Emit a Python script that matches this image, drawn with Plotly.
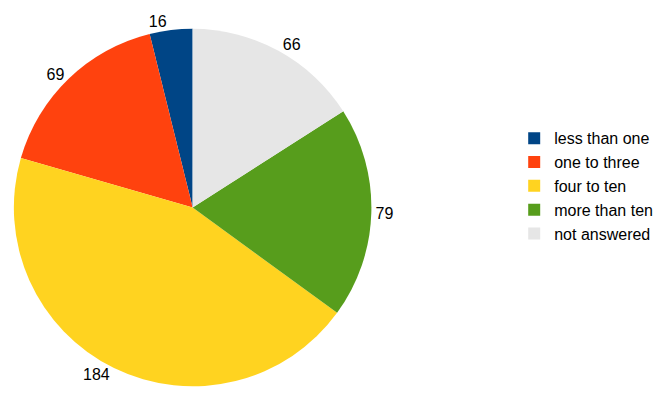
import plotly.graph_objects as go

# Categories and counts
labels = ['less than one', 'one to three', 'four to ten', 'more than ten', 'not answered']
values = [16, 69, 184, 79, 66]
colors = ['#004586', '#ff420e', '#ffd320', '#579d1c', '#e6e6e6']

W, H = 664, 405

# first slice should end up just left of 12 o'clock
start = -360 * values[0] / sum(values)

fig = go.Figure()
fig.add_trace(go.Pie(
    labels=labels, values=values,
    sort=False, direction='counterclockwise', rotation=start,
    marker=dict(colors=colors, line=dict(width=0)),
    textinfo='value', textposition='outside',
    textfont=dict(size=16, color='#000000', family='Liberation Sans, Arial, sans-serif'),
    domain=dict(x=[0, 362 / W], y=[27 / H, 389 / H]),
    hoverinfo='label+value',
))

fig.update_layout(
    width=W, height=H,
    margin=dict(l=0, r=0, t=0, b=0),
    paper_bgcolor='white', plot_bgcolor='white',
    font=dict(family='Liberation Sans, Arial, sans-serif', size=16, color='#000000'),
    legend=dict(x=505 / W, y=1 - 175 / H, xanchor='left', yanchor='middle',
                font=dict(size=16), itemwidth=30, tracegroupgap=0,
                bgcolor='rgba(0,0,0,0)'),
)

fig.write_html("out.html")
